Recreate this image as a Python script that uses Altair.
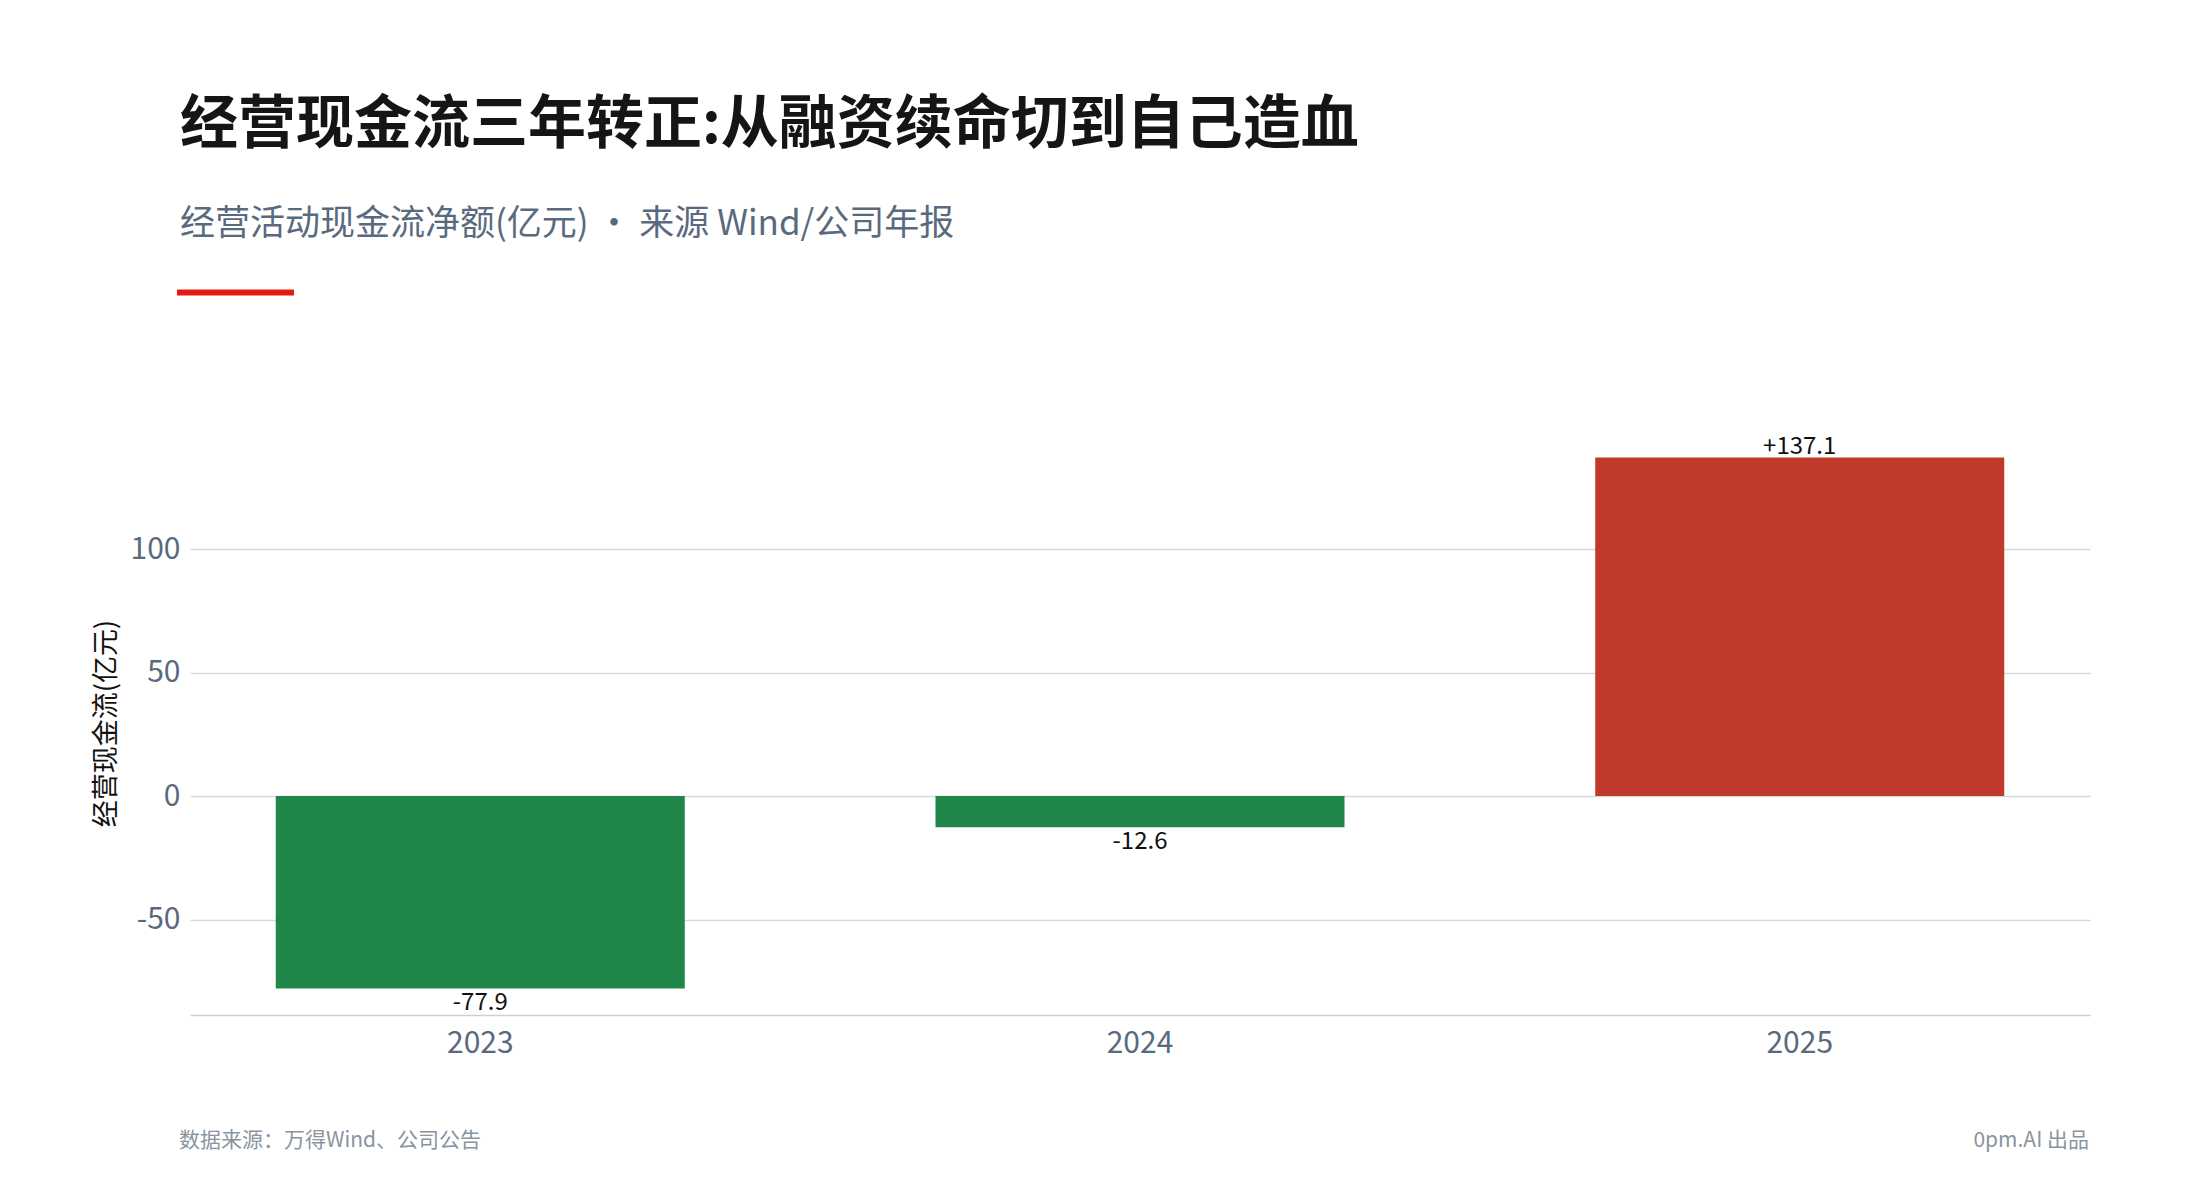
import altair as alt
import pandas as pd

# ---- data ----
years = ["2023", "2024", "2025"]
values = [-77.9, -12.6, 137.1]
labels = ["-77.9", "-12.6", "+137.1"]

title_text = "经营现金流三年转正:从融资续命切到自己造血"
subtitle_text = "经营活动现金流净额(亿元) · 来源 Wind/公司年报"
y_title = "经营现金流(亿元)"
footer_left = "数据来源：万得Wind、公司公告"
footer_right = "0pm.AI 出品"
y_ticks = [-50, 0, 50, 100]

FONT = "Noto Sans CJK SC"
GREEN = "#20864a"
RED = "#c0392b"
SLATE = "#5a6a7e"

df = pd.DataFrame({"year": years, "value": values, "label": labels})
df["sign"] = ["pos" if v >= 0 else "neg" for v in values]

vmin, vmax = min(values), max(values)
pad = (vmax - vmin) * 0.05
domain = [vmin - pad, vmax + pad]

W, H = 1900, 584

x_enc = alt.X(
    "year:N",
    sort=years,
    title=None,
    scale=alt.Scale(paddingInner=0.38, paddingOuter=0.13),
    axis=alt.Axis(
        labelAngle=0,
        labelFont=FONT,
        labelFontSize=30,
        labelColor=SLATE,
        labelPadding=13,
        ticks=False,
        tickSize=0,
        domain=True,
        domainColor="#c8d0d9",
        domainWidth=1.5,
        grid=False,
    ),
)

y_enc = alt.Y(
    "value:Q",
    scale=alt.Scale(domain=domain, nice=False, zero=False),
    axis=alt.Axis(
        values=y_ticks,
        labelExpr="replace(datum.label, '\u2212', '-')",
        title=y_title,
        titleFont=FONT,
        titleFontSize=27,
        titleFontWeight="normal",
        titleColor="#111111",
        titleX=-84,
        titleY=H / 2,
        titleBaseline="middle",
        labelFont=FONT,
        labelFontSize=30,
        labelColor=SLATE,
        labelPadding=10,
        ticks=False,
        tickSize=0,
        domain=False,
        grid=True,
        gridColor="#d3d9df",
        gridWidth=1.5,
    ),
)

bars = alt.Chart(df).mark_bar().encode(
    x=x_enc,
    y=y_enc,
    color=alt.Color(
        "sign:N",
        scale=alt.Scale(domain=["neg", "pos"], range=[GREEN, RED]),
        legend=None,
    ),
)

pos_labels = (
    alt.Chart(df)
    .transform_filter("datum.value >= 0")
    .mark_text(font=FONT, fontSize=24, color="#111111", baseline="alphabetic", dy=-4)
    .encode(x=alt.X("year:N", sort=years), y="value:Q", text="label:N")
)

neg_labels = (
    alt.Chart(df)
    .transform_filter("datum.value < 0")
    .mark_text(font=FONT, fontSize=24, color="#111111", baseline="top", dy=3)
    .encode(x=alt.X("year:N", sort=years), y="value:Q", text="label:N")
)

one = pd.DataFrame({"k": [0]})

title_mark = alt.Chart(one).mark_text(
    text=title_text, font=FONT, fontSize=58, fontWeight="bold",
    color="#151515", align="left", baseline="alphabetic",
).encode(x=alt.value(-10), y=alt.value(-288))

subtitle_mark = alt.Chart(one).mark_text(
    text=subtitle_text, font=FONT, fontSize=35,
    color=SLATE, align="left", baseline="alphabetic",
).encode(x=alt.value(-10), y=alt.value(-196))

red_line = alt.Chart(one).mark_rule(color="#e31b13", strokeWidth=6).encode(
    x=alt.value(-13), x2=alt.value(104), y=alt.value(-138.5)
)

foot_l = alt.Chart(one).mark_text(
    text=footer_left, font=FONT, fontSize=21,
    color="#8a949f", align="left", baseline="alphabetic",
).encode(x=alt.value(-11), y=alt.value(716))

foot_r = alt.Chart(one).mark_text(
    text=footer_right, font=FONT, fontSize=21,
    color="#8a949f", align="right", baseline="alphabetic",
).encode(x=alt.value(W - 1), y=alt.value(716))

chart = (
    alt.layer(bars, pos_labels, neg_labels, title_mark, subtitle_mark, red_line, foot_l, foot_r)
    .properties(
        width=W,
        height=H,
        autosize=alt.AutoSizeParams(type="none"),
        padding={"left": 182, "top": 423, "right": 102, "bottom": 177},
        background="white",
    )
    .configure_view(stroke=None)
)

chart.save("out.html", embed_options={"renderer": "svg", "actions": False})
